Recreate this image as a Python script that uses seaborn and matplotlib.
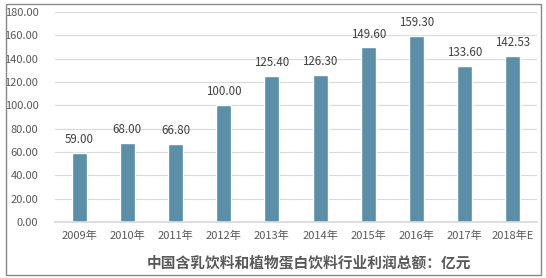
import matplotlib
matplotlib.use("Agg")
import matplotlib.pyplot as plt
import seaborn as sns
import pandas as pd
from matplotlib.patches import Rectangle

years = ["2009年", "2010年", "2011年", "2012年", "2013年", "2014年", "2015年", "2016年", "2017年", "2018年E"]
profits = [59.00, 68.00, 66.80, 100.00, 125.40, 126.30, 149.60, 159.30, 133.60, 142.53]
title = "中国含乳饮料和植物蛋白饮料行业利润总额：亿元"

sns.set_theme(style="white")
plt.rcParams['font.family'] = ['Noto Sans CJK SC', 'DejaVu Sans']

df = pd.DataFrame({"year": years, "profit": profits})

fig = plt.figure(figsize=(5.46, 2.78), dpi=100)
ax = fig.add_axes([55/546, 1-222/278, 482/546, 210/278])

sns.barplot(data=df, x="year", y="profit", color="#5B8FA8", saturation=1, width=0.31, ax=ax)

ax.set_ylim(0, 180)
ax.set_xlim(-0.5, len(years)-0.5)
ax.set_yticks(range(0, 181, 20))
ax.set_yticklabels([f"{v:.2f}" for v in range(0, 181, 20)])
ax.yaxis.grid(True, color="#d9d9d9", linewidth=0.8)
ax.set_axisbelow(True)
for s in ["left", "right", "top"]:
    ax.spines[s].set_visible(False)
ax.spines["bottom"].set_color("#d9d9d9")
ax.tick_params(axis="both", length=0, labelsize=8, colors="#595959", pad=4)
ax.tick_params(axis="y", pad=12)
ax.tick_params(axis="x", pad=6)
ax.set_xlabel("")
ax.set_ylabel("")

for c in ax.containers:
    ax.bar_label(c, labels=[f"{v:.2f}" for v in profits], padding=5, fontsize=8.3, color="#404040")

fig.text(309/546, 1-262/278, title, ha="center", va="center", fontsize=10.6, fontweight="bold", color="#595959")

fig.patches.append(Rectangle((6/546, 1-275/278), 535/546, 271/278, transform=fig.transFigure,
                             fill=False, edgecolor="#888888", linewidth=1))

fig.savefig("out.png", dpi=100)
